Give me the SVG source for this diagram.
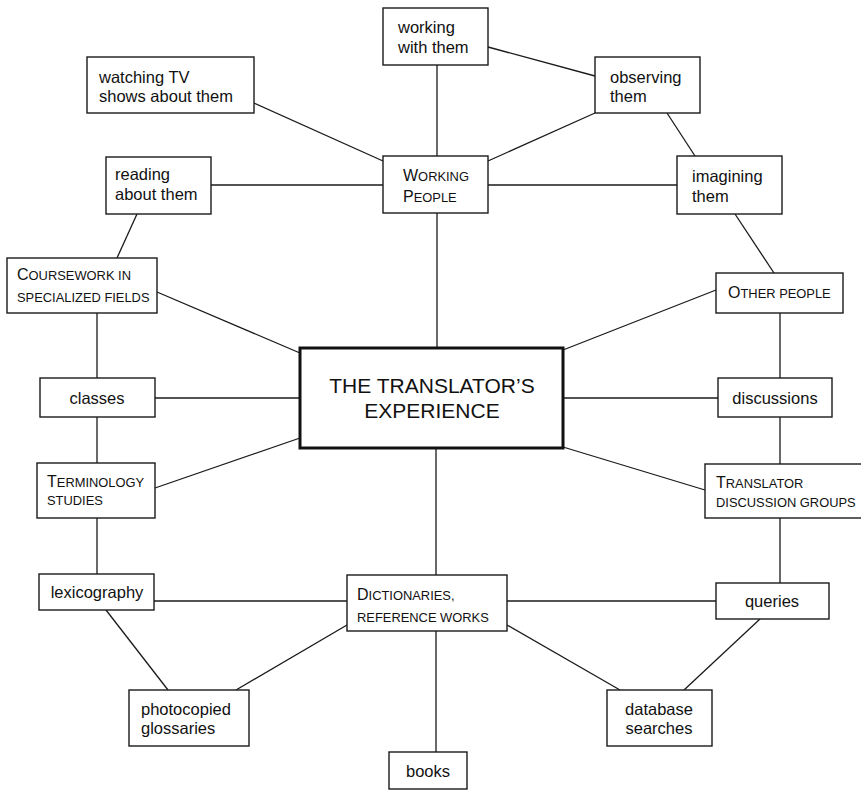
<svg xmlns="http://www.w3.org/2000/svg" width="861" height="791" viewBox="0 0 861 791">
<style>
.box{fill:#fff;stroke:#1a1a1a;stroke-width:1.4}
.main{fill:#fff;stroke:#111;stroke-width:3}
.c line{stroke:#1a1a1a;stroke-width:1.3}
text{font-family:"Liberation Sans",Arial,sans-serif;font-size:16.5px;fill:#111}
.sc{font-size:16px}
.s{font-size:12.9px}
.mid{text-anchor:middle}
</style>
<rect width="861" height="791" fill="#fff"/>
<g class="c" id="connectors">
<line x1="437" y1="65" x2="437" y2="156"/>
<line x1="488" y1="47" x2="595" y2="76"/>
<line x1="595" y1="113" x2="488" y2="161"/>
<line x1="667" y1="113" x2="695" y2="156"/>
<line x1="254" y1="103" x2="383" y2="161"/>
<line x1="211" y1="185" x2="383" y2="185"/>
<line x1="488" y1="185" x2="677" y2="185"/>
<line x1="137" y1="214" x2="117" y2="258"/>
<line x1="735" y1="214" x2="774" y2="273"/>
<line x1="437" y1="213" x2="437" y2="348"/>
<line x1="157" y1="292" x2="300" y2="353"/>
<line x1="716" y1="290" x2="563" y2="350"/>
<line x1="97" y1="313" x2="97" y2="378"/>
<line x1="780" y1="313" x2="780" y2="378"/>
<line x1="155" y1="398" x2="300" y2="398"/>
<line x1="563" y1="398" x2="718" y2="398"/>
<line x1="97" y1="417" x2="97" y2="463"/>
<line x1="780" y1="417" x2="780" y2="464"/>
<line x1="155" y1="488" x2="300" y2="438"/>
<line x1="563" y1="447" x2="705" y2="490"/>
<line x1="97" y1="518" x2="97" y2="574"/>
<line x1="780" y1="518" x2="780" y2="583"/>
<line x1="436" y1="448" x2="436" y2="575"/>
<line x1="154" y1="601" x2="347" y2="601"/>
<line x1="507" y1="601" x2="716" y2="601"/>
<line x1="106" y1="610" x2="168" y2="690"/>
<line x1="347" y1="625" x2="236" y2="690"/>
<line x1="507" y1="625" x2="620" y2="690"/>
<line x1="760" y1="619" x2="684" y2="690"/>
<line x1="436" y1="631" x2="436" y2="752"/>
</g>
<g id="center">
<rect class="main" x="300" y="348" width="263" height="100"/>
<text class="mid" x="432" y="393" style="font-size:21px">THE TRANSLATOR’S</text>
<text class="mid" x="432" y="418" style="font-size:21px">EXPERIENCE</text>
</g>
<g id="working-people">
<rect class="box" x="383" y="156" width="105" height="57"/>
<text class="sc" x="403" y="181">W<tspan class="s">ORKING</tspan></text>
<text class="sc" x="403" y="202">P<tspan class="s">EOPLE</tspan></text>
</g>
<g id="working-with-them">
<rect class="box" x="383" y="8" width="105" height="57"/>
<text x="398" y="33">working</text>
<text x="398" y="53">with them</text>
</g>
<g id="observing-them">
<rect class="box" x="595" y="57" width="105" height="56"/>
<text x="610" y="83">observing</text>
<text x="610" y="102">them</text>
</g>
<g id="watching-tv">
<rect class="box" x="87" y="57" width="167" height="56"/>
<text x="99" y="83">watching TV</text>
<text x="99" y="102">shows about them</text>
</g>
<g id="reading-about-them">
<rect class="box" x="106" y="157" width="105" height="57"/>
<text x="115" y="180">reading</text>
<text x="115" y="200">about them</text>
</g>
<g id="imagining-them">
<rect class="box" x="677" y="156" width="105" height="58"/>
<text x="692" y="182">imagining</text>
<text x="692" y="202">them</text>
</g>
<g id="coursework">
<rect class="box" x="7" y="258" width="150" height="55"/>
<text class="sc" x="17" y="280">C<tspan class="s">OURSEWORK IN</tspan></text>
<text class="s" x="17" y="302">SPECIALIZED FIELDS</text>
</g>
<g id="other-people">
<rect class="box" x="716" y="273" width="127" height="40"/>
<text class="sc" x="728" y="298">O<tspan class="s">THER PEOPLE</tspan></text>
</g>
<g id="classes">
<rect class="box" x="40" y="378" width="115" height="39"/>
<text class="mid" x="97" y="404">classes</text>
</g>
<g id="discussions">
<rect class="box" x="718" y="378" width="114" height="39"/>
<text class="mid" x="775" y="404">discussions</text>
</g>
<g id="terminology-studies">
<rect class="box" x="37" y="463" width="118" height="55"/>
<text class="sc" x="47" y="487">T<tspan class="s">ERMINOLOGY</tspan></text>
<text class="s" x="47" y="505">STUDIES</text>
</g>
<g id="translator-discussion-groups">
<rect class="box" x="705" y="464" width="160" height="54"/>
<text class="sc" x="716" y="488">T<tspan class="s">RANSLATOR</tspan></text>
<text class="s" x="716" y="507">DISCUSSION GROUPS</text>
</g>
<g id="lexicography">
<rect class="box" x="39" y="574" width="115" height="36"/>
<text class="mid" x="97" y="598">lexicography</text>
</g>
<g id="dictionaries">
<rect class="box" x="347" y="575" width="160" height="56"/>
<text class="sc" x="357" y="600">D<tspan class="s">ICTIONARIES,</tspan></text>
<text class="s" x="357" y="622">REFERENCE WORKS</text>
</g>
<g id="queries">
<rect class="box" x="716" y="583" width="113" height="36"/>
<text class="mid" x="772" y="607">queries</text>
</g>
<g id="photocopied-glossaries">
<rect class="box" x="129" y="690" width="120" height="56"/>
<text x="141" y="715">photocopied</text>
<text x="141" y="734">glossaries</text>
</g>
<g id="database-searches">
<rect class="box" x="607" y="690" width="105" height="56"/>
<text class="mid" x="659" y="715">database</text>
<text class="mid" x="659" y="734">searches</text>
</g>
<g id="books">
<rect class="box" x="389" y="752" width="78" height="37"/>
<text class="mid" x="428" y="777">books</text>
</g>
</svg>
